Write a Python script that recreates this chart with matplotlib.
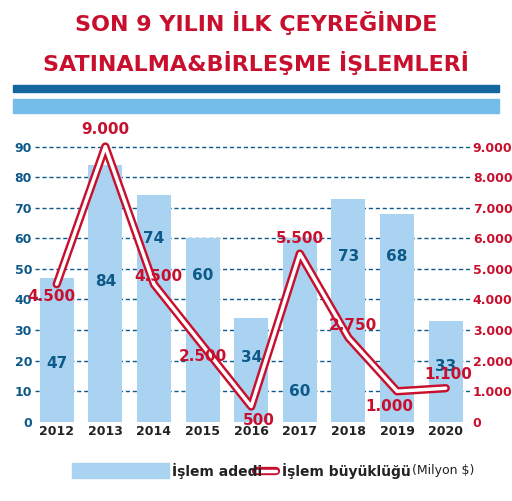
import matplotlib
matplotlib.use("Agg")
import matplotlib.pyplot as plt
from matplotlib.patches import Rectangle

years = ["2012","2013","2014","2015","2016","2017","2018","2019","2020"]
counts = [47, 84, 74, 60, 34, 60, 73, 68, 33]
count_label_y = [19, 46, 60, 48, 21, 10, 54, 54, 18]
sizes = [4500, 9000, 4500, 2500, 500, 5500, 2750, 1000, 1100]
size_labels = ["4.500","9.000","4.500","2.500","500","5.500","2.750","1.000","1.100"]
left_ticks = [0,10,20,30,40,50,60,70,80,90]
right_ticks = [0,1000,2000,3000,4000,5000,6000,7000,8000,9000]
right_labels = ["0","1.000","2.000","3.000","4.000","5.000","6.000","7.000","8.000","9.000"]

RED = "#c8102e"; DARK = "#0d5a8a"; LIGHT = "#a9d3f0"
FONT = dict(family="DejaVu Sans", fontweight="bold")

fig = plt.figure(figsize=(5.12, 5.01), dpi=100)
fig.text(0.5, 0.955, "SON 9 YILIN İLK ÇEYREĞİNDE", ha="center", va="center", color=RED, fontsize=16, **FONT)
fig.text(0.5, 0.875, "SATINALMA&BİRLEŞME İŞLEMLERİ", ha="center", va="center", color=RED, fontsize=16, **FONT)
fig.patches.append(Rectangle((0.025, 0.817), 0.95, 0.014, transform=fig.transFigure, color="#14679c"))
fig.patches.append(Rectangle((0.025, 0.775), 0.95, 0.027, transform=fig.transFigure, color="#74bde8"))

ax = fig.add_axes([0.068, 0.158, 0.85, 0.58])
x = list(range(len(years)))
ax.bar(x, counts, width=0.7, color=LIGHT, zorder=2)
ax.set_ylim(0, 95)
ax.set_xlim(-0.45, 8.5)
ax.set_yticks(left_ticks)
ax.set_yticklabels([str(t) for t in left_ticks], color=DARK, fontsize=9, **FONT)
ax.set_xticks(x)
ax.set_xticklabels(years, fontsize=9, color="#222222", **FONT)
ax.tick_params(length=0, pad=2)
for t in left_ticks[1:]:
    ax.axhline(t, color=DARK, ls=(0, (3, 2)), lw=1, zorder=1)
for s in ax.spines.values():
    s.set_visible(False)
for i, c in enumerate(counts):
    ax.text(i, count_label_y[i], str(c), ha="center", va="center", color=DARK, fontsize=11, zorder=5, **FONT)

ax2 = ax.twinx()
ax2.set_ylim(0, 9500)
ax2.set_yticks(right_ticks)
ax2.set_yticklabels(right_labels, color=RED, fontsize=9, **FONT)
ax2.tick_params(length=0, pad=2)
for s in ax2.spines.values():
    s.set_visible(False)
ax2.plot(x, sizes, color=RED, lw=6, solid_joinstyle="round", solid_capstyle="round", zorder=3)
ax2.plot(x, sizes, color="white", lw=2.5, solid_joinstyle="round", solid_capstyle="round", zorder=4)
offsets = [(-0.1, -400), (0, 550), (0.1, 250), (0.0, -350), (0.15, -450), (0, 500), (0.1, 400), (-0.15, -500), (0.05, 450)]
for i, (s, lab) in enumerate(zip(sizes, size_labels)):
    dx, dy = offsets[i]
    ax2.text(i + dx, s + dy, lab, ha="center", va="center", color=RED, fontsize=11, zorder=6, **FONT)

fig.patches.append(Rectangle((0.14, 0.045), 0.19, 0.03, transform=fig.transFigure, color=LIGHT))
fig.text(0.335, 0.06, "İşlem adedi", ha="left", va="center", fontsize=10, color="#222222", **FONT)
fig.lines.append(plt.Line2D([0.5, 0.54], [0.06, 0.06], transform=fig.transFigure, color=RED, lw=6, solid_capstyle="round"))
fig.lines.append(plt.Line2D([0.5, 0.54], [0.06, 0.06], transform=fig.transFigure, color="white", lw=2.5, solid_capstyle="round"))
fig.text(0.55, 0.06, "İşlem büyüklüğü", ha="left", va="center", fontsize=10, color="#222222", **FONT)
fig.text(0.805, 0.06, "(Milyon $)", ha="left", va="center", fontsize=9, color="#222222", family="DejaVu Sans")

fig.savefig("out.png", dpi=100)
